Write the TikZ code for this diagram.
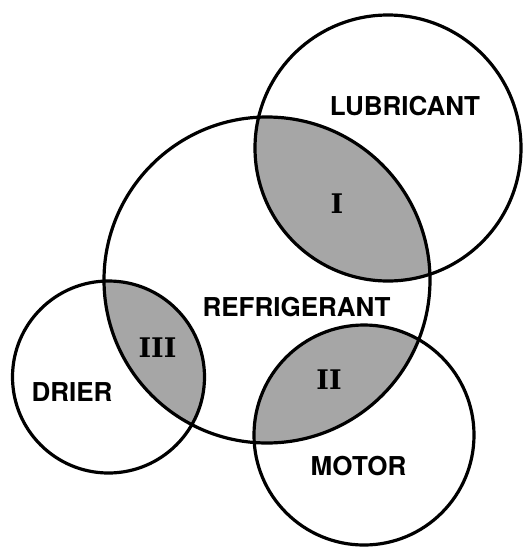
\documentclass[tikz,border=0pt]{standalone}
\usepackage{fontspec}
\newfontfamily\labelfont{TeX Gyre Heros}
\newfontfamily\numfont{DejaVu Serif}
\begin{document}
\begin{tikzpicture}[x=1pt,y=-1pt,
  ring/.style={circle, draw, line width=3.2pt, inner sep=0pt},
  lab/.style={font=\labelfont\bfseries\fontsize{26}{30}\selectfont, inner sep=0pt},
  num/.style={font=\numfont\bfseries\fontsize{27}{30}\selectfont, inner sep=0pt},
  shade/.style={fill=black!35}]
\useasboundingbox (0,0) rectangle (524,547);
\coordinate (cR) at (267,280);
\coordinate (cL) at (388,148);
\coordinate (cD) at (108.5,377);
\coordinate (cM) at (364,435);
% shaded overlaps
\begin{scope}
  \clip (cR) circle[radius=163pt];
  \fill[shade] (cL) circle[radius=133pt];
  \fill[shade] (cD) circle[radius=96pt];
  \fill[shade] (cM) circle[radius=110pt];
\end{scope}
% circles
\node[ring, minimum size=326pt] (R) at (cR) {};
\node[ring, minimum size=266pt] (L) at (cL) {};
\node[ring, minimum size=192pt] (D) at (cD) {};
\node[ring, minimum size=220pt] (M) at (cM) {};
% labels
\node[lab] (tL) at (405,106) {LUBRICANT};
\node[lab] (tR) at (296.5,307) {REFRIGERANT};
\node[lab] (tD) at (72,392) {DRIER};
\node[lab] (tM) at (358.5,466) {MOTOR};
\node[num] (n1) at (337,204) {I};
\node[num] (n2) at (329,380) {II};
\node[num] (n3) at (157.5,348) {III};
\end{tikzpicture}
\end{document}
